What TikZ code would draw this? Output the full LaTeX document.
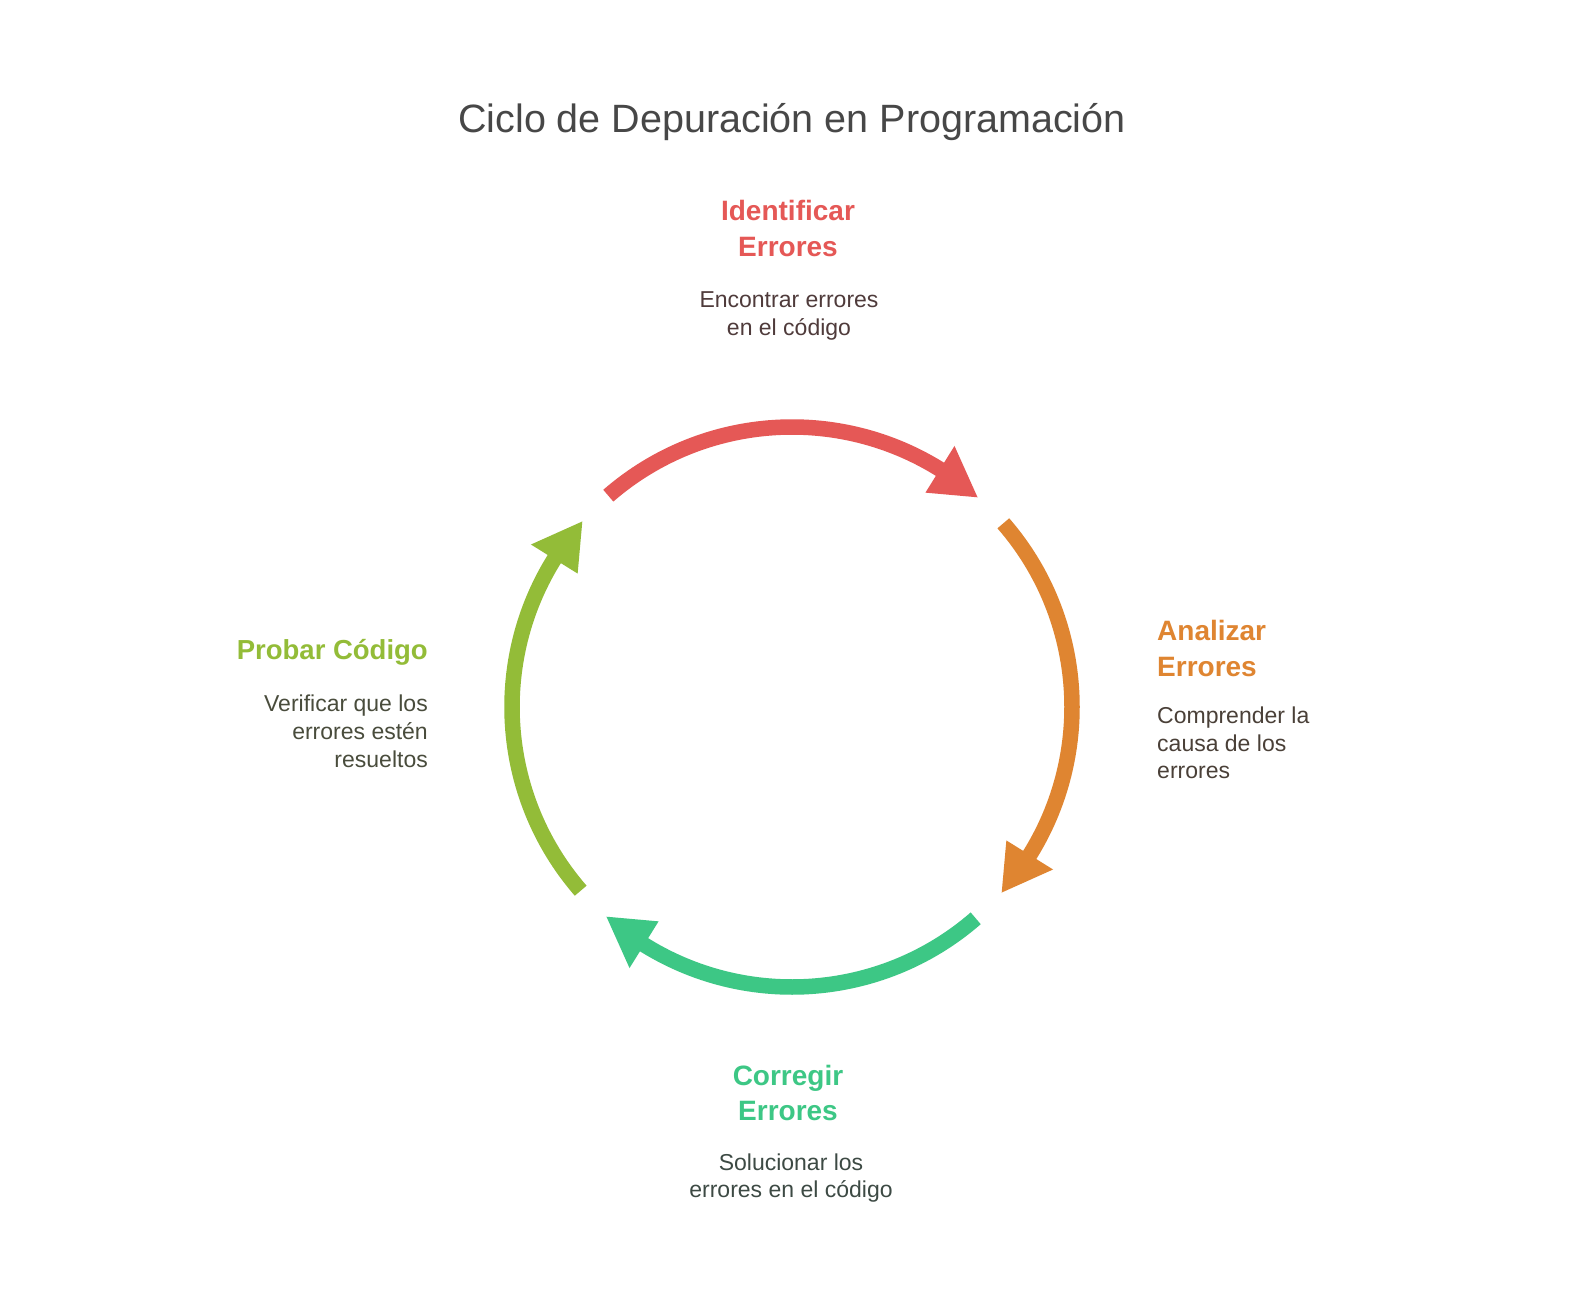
\documentclass[tikz,border=0pt]{standalone}
\usepackage{fontspec}
\setmainfont{Liberation Sans}
\definecolor{cred}{HTML}{E55856}
\definecolor{corange}{HTML}{DF8531}
\definecolor{cgreen}{HTML}{3DC785}
\definecolor{colive}{HTML}{93BC38}
\definecolor{ctitle}{HTML}{474747}
\definecolor{dred}{HTML}{4F3B3B}
\definecolor{dorange}{HTML}{4A4038}
\definecolor{dgreen}{HTML}{3D4A44}
\definecolor{dolive}{HTML}{494C3C}
\tikzset{
  head/.style={inner sep=0pt, font=\fontsize{28}{35.7}\selectfont\bfseries},
  desc/.style={inner sep=0pt, font=\fontsize{23}{27.7}\selectfont},
  cyc/.style={line width=15.5pt}
}
\begin{document}
\begin{tikzpicture}[x=1pt,y=-1pt]
\useasboundingbox[fill=white] (0,0) rectangle (1584,1308);
\node[inner sep=0pt, anchor=base, text=ctitle, font=\fontsize{39.5}{47}\selectfont] (title) at (792,132.7) {Ciclo de Depuración en Programación};

% top (base anchor = last line)
\node[head, anchor=base, align=center, text=cred] (h1) at (788,256.7) {Identificar\\Errores};
\node[desc, anchor=base, align=center, text=dred] (d1) at (789,335.4) {Encontrar errores\\en el código};
% right
\node[head, anchor=base west, align=left, text=corange] (h2) at (1157,676) {Analizar\\Errores};
\node[desc, anchor=base west, align=left, text=dorange] (d2) at (1157,778.7) {Comprender la\\causa de los\\errores};
% bottom
\node[head, anchor=base, align=center, text=cgreen] (h3) at (788,1120.7) {Corregir\\Errores};
\node[desc, anchor=base, align=center, text=dgreen] (d3) at (791,1197.7) {Solucionar los\\errores en el código};
% left
\node[head, anchor=base east, align=right, text=colive, font=\fontsize{27.5}{35.7}\selectfont\bfseries] (h4) at (428,659) {Probar Código};
\node[desc, anchor=base east, align=right, text=dolive] (d4) at (428,767.1) {Verificar que los\\errores estén\\resueltos};

\begin{scope}[shift={(792,707)}, y=1pt]
\coordinate (c) at (0,0);
% red
\draw[cyc, cred] (131:280) arc[start angle=131, end angle=56, radius=280];
\fill[cred] (48.5:280) -- (58.1:307.5) -- (58.1:252.5) -- cycle;
% orange
\draw[cyc, corange] (41:280) arc[start angle=41, end angle=-34, radius=280];
\fill[corange] (-41.5:280) -- (-31.9:307.5) -- (-31.9:252.5) -- cycle;
% green
\draw[cyc, cgreen] (-49:280) arc[start angle=-49, end angle=-124, radius=280];
\fill[cgreen] (-131.5:280) -- (-121.9:307.5) -- (-121.9:252.5) -- cycle;
% olive
\draw[cyc, colive] (-139:280) arc[start angle=-139, end angle=-214, radius=280];
\fill[colive] (-221.5:280) -- (-211.9:307.5) -- (-211.9:252.5) -- cycle;
\end{scope}
\end{tikzpicture}
\end{document}
